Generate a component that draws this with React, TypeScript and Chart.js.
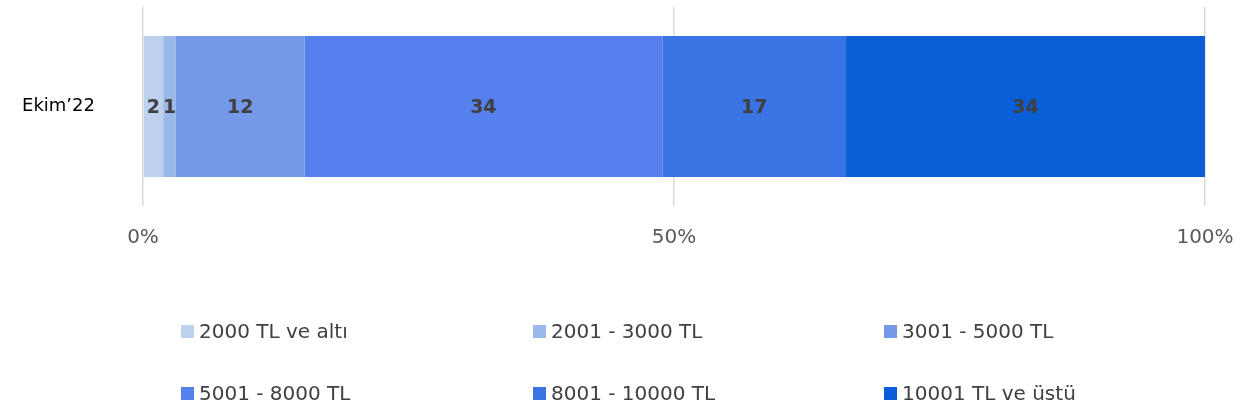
import React, { useEffect, useRef } from "react";
import { Chart, registerables } from "chart.js";

Chart.register(...registerables);

const categories = ["Ekim’22"];
const seriesNames = [
  "2000 TL ve altı",
  "2001 - 3000 TL",
  "3001 - 5000 TL",
  "5001 - 8000 TL",
  "8001 - 10000 TL",
  "10001 TL ve üstü",
];
const series1 = [1.9];
const series2 = [1.2];
const series3 = [12.1];
const series4 = [33.7];
const series5 = [17.3];
const series6 = [33.8];
const seriesColors = ["#BDD0EE", "#9BB8EA", "#7399E8", "#5580EE", "#3A73E4", "#0A5ED8"];
const xTicks = [0, 50, 100];

const W = 1241;
const H = 415;

const valueLabelPlugin = {
  id: "valueLabels",
  afterDatasetsDraw(chart: any) {
    const ctx = chart.ctx;
    ctx.save();
    ctx.font = "bold 19px 'DejaVu Sans'";
    ctx.fillStyle = "#404040";
    ctx.textAlign = "center";
    ctx.textBaseline = "middle";
    chart.data.datasets.forEach((ds: any, di: number) => {
      const meta = chart.getDatasetMeta(di);
      meta.data.forEach((bar: any, i: number) => {
        const v = ds.data[i];
        const { x, y, base } = bar.getProps(["x", "y", "base"], true);
        ctx.fillText(String(Math.round(v)), (x + base) / 2, y + 2);
      });
    });
    ctx.restore();
  },
};

const legendPlugin = {
  id: "gridLegend",
  afterDraw(chart: any) {
    const ctx = chart.ctx;
    const colX = [181, 533, 884];
    const rowY = [331.5, 393.5];
    ctx.save();
    ctx.font = "20px 'DejaVu Sans'";
    ctx.textAlign = "left";
    ctx.textBaseline = "middle";
    chart.data.datasets.forEach((ds: any, i: number) => {
      const x = colX[i % 3];
      const y = rowY[Math.floor(i / 3)];
      ctx.fillStyle = ds.backgroundColor;
      ctx.fillRect(x, y - 6.5, 13, 13);
      ctx.fillStyle = "#404040";
      ctx.fillText(ds.label, x + 18, y + 1);
    });
    ctx.restore();
  },
};

export default function App() {
  const ref = useRef<HTMLCanvasElement | null>(null);
  useEffect(() => {
    document.body.style.margin = "0";
    const values = [series1, series2, series3, series4, series5, series6];
    const chart = new Chart(ref.current as HTMLCanvasElement, {
      type: "bar",
      data: {
        labels: categories,
        datasets: seriesNames.map((name, i) => ({
          label: name,
          data: values[i],
          backgroundColor: seriesColors[i],
          borderWidth: 0,
          barPercentage: 0.709,
          categoryPercentage: 1,
        })),
      },
      options: {
        indexAxis: "y",
        animation: false,
        responsive: false,
        devicePixelRatio: 1,
        layout: { padding: { left: 0, right: 36, top: 7, bottom: 169 } },
        plugins: { legend: { display: false }, tooltip: { enabled: false } },
        scales: {
          x: {
            stacked: true,
            min: 0,
            max: 100,
            afterBuildTicks: (scale: any) => {
              scale.ticks = xTicks.map((v) => ({ value: v }));
            },
            afterFit: (scale: any) => {
              scale.height = 40;
              scale.paddingLeft = 0;
              scale.paddingRight = 0;
            },
            grid: { color: "#D9D9D9", lineWidth: 1.5, drawTicks: false },
            border: { display: false },
            ticks: {
              padding: 20,
              color: "#595959",
              font: { family: "'DejaVu Sans'", size: 20 },
              callback: (v: any) => v + "%",
            },
          },
          y: {
            stacked: true,
            afterFit: (scale: any) => {
              scale.width = 143;
              scale.paddingTop = 0;
              scale.paddingBottom = 0;
            },
            grid: { display: false, drawTicks: false },
            border: { display: false },
            ticks: {
              padding: 48,
              color: "#000000",
              font: { family: "'DejaVu Sans'", size: 18 },
            },
          },
        },
      },
      plugins: [valueLabelPlugin, legendPlugin],
    } as any);
    return () => chart.destroy();
  }, []);
  return <canvas ref={ref} width={W} height={H} style={{ display: "block", width: W, height: H }} />;
}
